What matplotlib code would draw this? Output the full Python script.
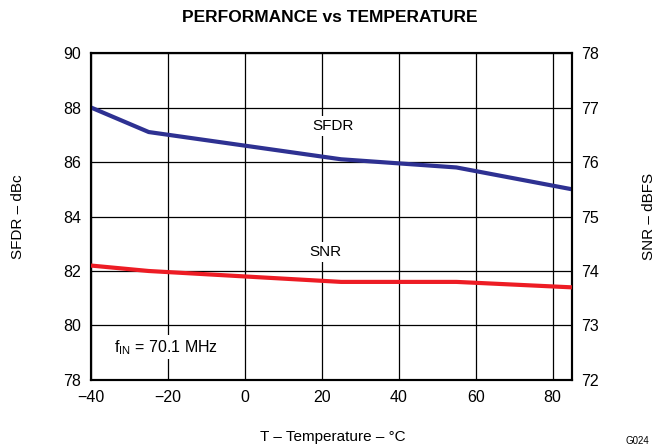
# Performance vs temperature: SFDR (left axis) and SNR (right axis)
import matplotlib
matplotlib.use("Agg")
import matplotlib.pyplot as plt

plt.rcParams['font.family'] = ['Liberation Sans', 'DejaVu Sans']

temp = [-40, -25, 25, 55, 85]
sfdr = [88.0, 87.1, 86.1, 85.8, 85.0]
snr = [74.1, 74.0, 73.8, 73.8, 73.7]

x_ticks = [-40, -20, 0, 20, 40, 60, 80]
sfdr_ticks = [78, 80, 82, 84, 86, 88, 90]
snr_ticks = [72, 73, 74, 75, 76, 77, 78]

fig = plt.figure(figsize=(6.61, 4.47), dpi=100)
ax = fig.add_axes([0.1377, 0.1499, 0.7274, 0.7315])
ax2 = ax.twinx()

ax.plot(temp, sfdr, color='#2E3192', lw=3, solid_capstyle='butt', zorder=3)
ax2.plot(temp, snr, color='#ED1C24', lw=3, solid_capstyle='butt', zorder=3)

ax.set_xlim(-40, 85)
ax.set_ylim(78, 90)
ax2.set_ylim(72, 78)
ax.set_xticks(x_ticks)
ax.set_xticklabels(['\u221240', '\u221220', '0', '20', '40', '60', '80'])
ax.set_yticks(sfdr_ticks)
ax2.set_yticks(snr_ticks)
ax.grid(True, color='black', lw=0.9)
ax.set_axisbelow(True)
ax.tick_params(length=0, labelsize=11.5, pad=7)
ax2.tick_params(length=0, labelsize=11.5, pad=7)
for a in (ax, ax2):
    for s in a.spines.values():
        s.set_linewidth(1.5)

ax.set_ylabel('SFDR \u2013 dBc', fontsize=11)
ax.yaxis.set_label_coords(-0.137, 0.5)
ax2.set_ylabel('SNR \u2013 dBFS', fontsize=11)
ax2.yaxis.set_label_coords(1.1455, 0.5)
ax.set_xlabel('T \u2013 Temperature \u2013 \u00b0C', fontsize=11)
ax.xaxis.set_label_coords(0.502, -0.152)
fig.text(0.4995, 0.96, 'PERFORMANCE vs TEMPERATURE', fontsize=12.5, fontweight='bold',
         ha='center', va='center')

box = dict(facecolor='white', edgecolor='none', pad=2)
ax.text(23, 87.33, 'SFDR', fontsize=11, ha='center', va='center', bbox=box, zorder=2)
ax.text(21, 82.7, 'SNR', fontsize=11, ha='center', va='center', bbox=box, zorder=2)
ax.text(-34, 79.2, r'f$_{\mathregular{IN}}$ = 70.1 MHz', fontsize=11.5, ha='left', va='center',
        bbox=box, zorder=2)

fig.text(0.965, 0.002, 'G024', fontsize=7, ha='center', va='bottom')

fig.savefig('out.png', dpi=100)
